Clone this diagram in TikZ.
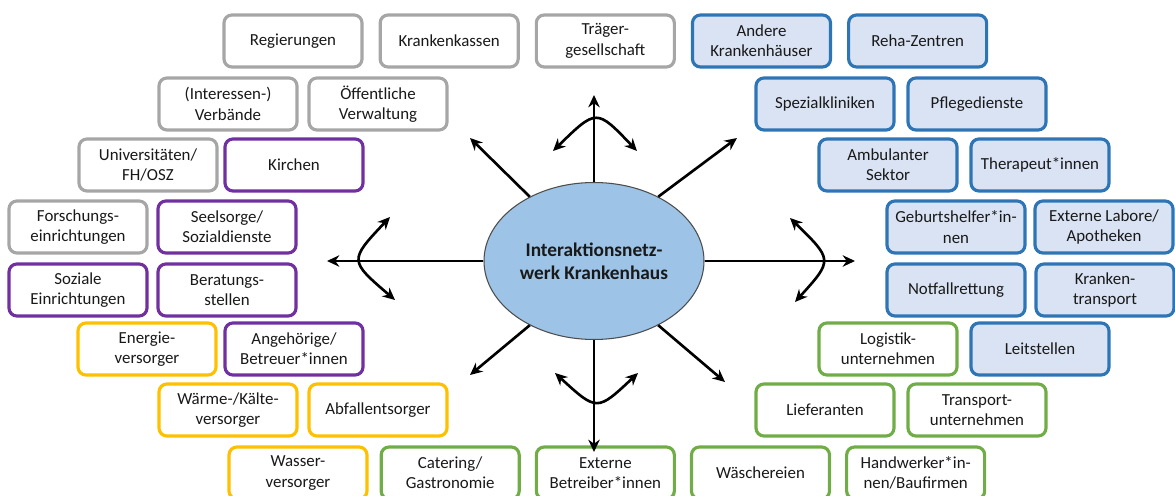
\documentclass[tikz,border=0pt]{standalone}
\usepackage{fontspec}
\setmainfont{Carlito}
\usepackage{tikz}
\usetikzlibrary{arrows.meta}
\usetikzlibrary{positioning}
\usetikzlibrary{shapes.geometric}

\definecolor{greyline}{HTML}{A6A6A6}
\definecolor{purpleline}{HTML}{7030A0}
\definecolor{blueline}{HTML}{2E75B6}
\definecolor{bluefill}{HTML}{DAE3F3}
\definecolor{yellowline}{HTML}{FFC000}
\definecolor{greenline}{HTML}{70AD47}
\definecolor{hubfill}{HTML}{9DC3E6}

\begin{document}
\begin{tikzpicture}[box/.style={draw, rounded corners=4.5pt, line width=1.8pt, minimum width=2.76cm, minimum height=1.04cm, inner sep=1pt, align=center, text=black!90, font=\fontsize{9.6}{11.6}\selectfont},
	grey/.style={box, draw=greyline, fill=white},
	social/.style={box, draw=purpleline, fill=white},
	care/.style={box, draw=blueline, fill=bluefill},
	supply/.style={box, draw=yellowline, fill=white},
	service/.style={box, draw=greenline, fill=white},
	link/.style={line width=1.5pt, -{Stealth[length=7pt,width=6.5pt]}},
	swing/.style={line width=1.5pt, {Stealth[length=7pt,width=6.5pt]}-{Stealth[length=7pt,width=6.5pt]}}]
	
	\useasboundingbox (0,0) rectangle (23.5,9.9);
	
	% centre
	\node[ellipse, draw=black!70, line width=0.6pt, fill=hubfill, minimum width=4.4cm, minimum height=3.14cm, inner sep=0pt, align=center, font=\fontsize{11}{13.2}\selectfont\bfseries, text=black!90] (kh) at (11.88,4.68) {Interaktionsnetz-\\werk Krankenhaus};
	
	% row 1
	\node[grey] (reg) at (5.86,9.08) {Regierungen};
	\node[grey, right=0.3cm of reg] (kk) {Krankenkassen};
	\node[grey, right=0.3cm of kk] (traeger) {Träger-\\gesellschaft};
	\node[care, right=0.3cm of traeger] (andere) {Andere\\Krankenhäuser};
	\node[care, right=0.3cm of andere] (reha) {Reha-Zentren};
	
	% row 2
	\node[grey] (verb) at (4.56,7.82) {(Interessen-)\\Verbände};
	\node[grey] (oeff) at (7.56,7.82) {Öffentliche\\Verwaltung};
	\node[care] (spez) at (16.50,7.82) {Spezialkliniken};
	\node[care] (pflege) at (19.54,7.82) {Pflegedienste};
	
	% row 3
	\node[grey] (uni) at (2.96,6.60) {Universitäten/\\FH/OSZ};
	\node[social] (kirch) at (5.88,6.60) {Kirchen};
	\node[care] (amb) at (17.76,6.60) {Ambulanter\\Sektor};
	\node[care] (ther) at (20.80,6.60) {Therapeut*innen};
	
	% row 4
	\node[grey] (forsch) at (1.56,5.36) {Forschungs-\\einrichtungen};
	\node[social] (seel) at (4.54,5.36) {Seelsorge/\\Sozialdienste};
	\node[care] (geb) at (19.12,5.36) {Geburtshelfer*in-\\nen};
	\node[care] (labor) at (22.08,5.36) {Externe Labore/\\Apotheken};
	
	% row 5
	\node[social] (soz) at (1.56,4.10) {Soziale\\Einrichtungen};
	\node[social] (berat) at (4.54,4.10) {Beratungs-\\stellen};
	\node[care] (notf) at (19.12,4.10) {Notfallrettung};
	\node[care] (ktrans) at (22.10,4.10) {Kranken-\\transport};
	
	% row 6
	\node[supply] (energ) at (2.94,2.92) {Energie-\\versorger};
	\node[social] (angeh) at (5.88,2.92) {Angehörige/\\Betreuer*innen};
	\node[service] (logist) at (17.76,2.92) {Logistik-\\unternehmen};
	\node[care] (leit) at (20.80,2.92) {Leitstellen};
	
	% row 7
	\node[supply] (waerme) at (4.56,1.70) {Wärme-/Kälte-\\versorger};
	\node[supply] (abfall) at (7.56,1.70) {Abfallentsorger};
	\node[service] (liefer) at (16.50,1.70) {Lieferanten};
	\node[service] (transp) at (19.54,1.70) {Transport-\\unternehmen};
	
	% row 8
	\node[supply] (wasser) at (5.96,0.44) {Wasser-\\versorger};
	\node[service, right=0.22cm of wasser] (cater) {Catering/\\Gastronomie};
	\node[service, right=0.28cm of cater] (betreib) {Externe\\Betreiber*innen};
	\node[service, right=0.28cm of betreib] (waesche) {Wäschereien};
	\node[service, right=0.28cm of waesche] (handw) {Handwerker*in-\\nen/Baufirmen};
	
	% arrow ends
	\coordinate (up) at (11.88,8.00);
	\coordinate (upleft) at (9.40,7.14);
	\coordinate (upright) at (14.74,7.14);
	\coordinate (left) at (6.54,4.68);
	\coordinate (right) at (17.10,4.68);
	\coordinate (downleft) at (9.40,2.40);
	\coordinate (downright) at (14.50,2.26);
	\coordinate (down) at (11.88,0.86);
	
	\draw[link] (kh.north) -- (up);
	\draw[link] (kh.135) -- (upleft);
	\draw[link] (kh.45) -- (upright);
	\draw[link] (kh.west) -- (left);
	\draw[link] (kh.east) -- (right);
	\draw[link] (kh.225) -- (downleft);
	\draw[link] (kh.-45) -- (downright);
	\draw[link] (kh.south) -- (down);
	
	% swinging arrows
	\coordinate (t1) at (11.06,6.88);
	\coordinate (t2) at (12.74,6.88);
	\coordinate (b1) at (11.10,2.44);
	\coordinate (b2) at (12.76,2.44);
	\coordinate (l1) at (7.80,5.56);
	\coordinate (l2) at (7.90,3.90);
	\coordinate (r1) at (15.80,5.54);
	\coordinate (r2) at (15.90,3.86);
	
	\draw[swing] (t1) .. controls (11.93,7.73) .. (t2);
	\draw[swing] (b1) .. controls (11.94,1.67) .. (b2);
	\draw[swing] (l1) .. controls (6.98,4.69) .. (l2);
	\draw[swing] (r1) .. controls (16.66,4.70) .. (r2);
	
\end{tikzpicture}
\end{document}
